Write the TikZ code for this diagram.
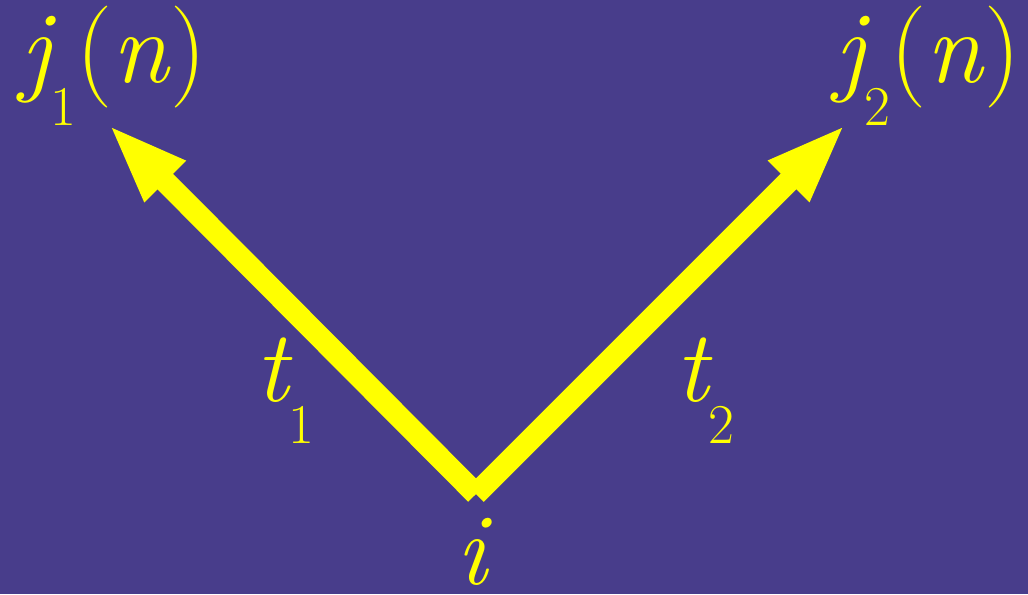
\documentclass[tikz,border=0pt]{standalone}
\usetikzlibrary{arrows.meta}
\definecolor{bgblue}{RGB}{72,61,139}
\definecolor{yel}{RGB}{255,255,0}
\newcommand\bigsz{\fontsize{72.5}{80}\selectfont}
\newcommand\subsz{\fontsize{40}{44}\selectfont}
\tikzset{
  lbl/.style={inner sep=0pt, outer sep=0pt, anchor=base west, text=yel, font=\bigsz},
  edgearrow/.style={draw=yel, line width=0.55cm, line cap=butt,
    -{Triangle[length=2.03cm, width=1.3cm]}},
}
\begin{document}
\begin{tikzpicture}[x=0.025cm, y=-0.025cm]
  \fill[bgblue] (0,0) rectangle (1028,594);
  \useasboundingbox (0,0) rectangle (1028,594);
  \coordinate (v) at (476,494);
  \coordinate (tipA) at (108,124);
  \coordinate (tipB) at (846,124);
  \draw[edgearrow] (v) -- (tipA);
  \draw[edgearrow] (v) -- (tipB);
  \node[lbl] (j1) at (20,82) {\itshape j\upshape\raisebox{-1.075cm}{\subsz 1}(\textit{n})};
  \node[lbl] (j2) at (834,82) {\itshape j\upshape\raisebox{-1.075cm}{\subsz 2}(\textit{n})};
  \node[lbl] (t1) at (255,401) {\itshape t\upshape\raisebox{-1.05cm}{\subsz 1}};
  \node[lbl] (t2) at (675,401) {\itshape t\upshape\raisebox{-1.05cm}{\subsz 2}};
  \node[lbl] (i) at (456,584) {\itshape i};
\end{tikzpicture}
\end{document}
